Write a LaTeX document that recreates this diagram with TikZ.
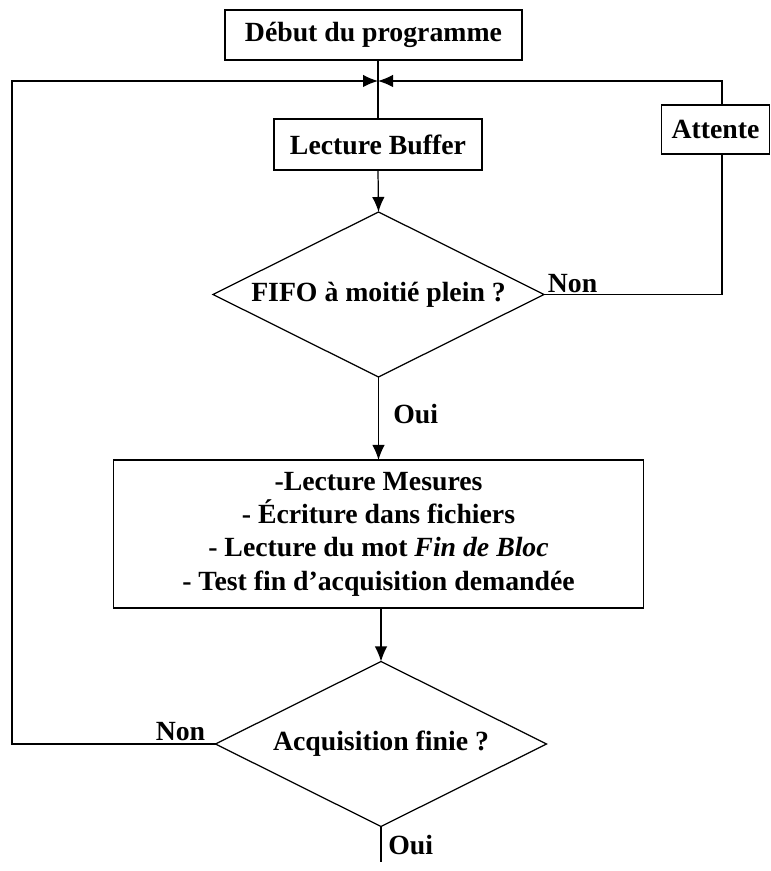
\documentclass[tikz,border=0pt]{standalone}
\usepackage{fontspec}
\setmainfont{Liberation Serif}
\usetikzlibrary{shapes.geometric,arrows.meta}

\begin{document}
\begin{tikzpicture}[font=\fontsize{15.8}{19}\selectfont\bfseries,
        >={Latex[length=0.30cm,width=0.25cm]},x=1cm,y=1cm]
    \tikzset{
        block/.style={
            draw,line width=0.7pt,
            inner sep=2pt,outer sep=0pt,align=center
        },
        test/.style={
            draw,diamond,aspect=2,line width=0.7pt,inner sep=0pt,outer sep=0pt,
            minimum width=6.62cm,minimum height=3.30cm
        },
        answer/.style={inner sep=0pt},
        link/.style={line width=0.7pt},
        flow/.style={->,line width=0.7pt}
    }
    \useasboundingbox (0,0) rectangle (15.40,17.42);

    \node[block,minimum width=5.94cm,minimum height=1.00cm]
        (start) at (7.47,16.72) {Début du programme};
    \coordinate (join) at (7.56,15.80);
    \coordinate (lturn) at (0.24,15.80);
    \coordinate (rturn) at (14.44,15.80);
    \node[block,minimum width=4.16cm,minimum height=1.02cm]
        (buffer) at (7.56,14.53) {Lecture Buffer};
    \node[block,minimum width=2.16cm,minimum height=0.98cm]
        (wait) at (14.31,14.83) {Attente};
    \node[test] (fifo) at (7.57,11.53) {FIFO à moitié plein ?};
    \node[block,minimum width=10.60cm,minimum height=2.96cm]
        (measures) at (7.57,6.74)
        {-Lecture Mesures\\- Écriture dans fichiers\\
         - Lecture du mot \textit{Fin de Bloc}\\
         - Test fin d’acquisition demandée};
    \node[test] (done) at (7.62,2.54) {Acquisition finie ?};
    \coordinate (stop) at (7.62,0.18);

    \node[answer,anchor=base west] (fifo-non)
        at ([xshift=0.07cm,yshift=0.04cm]fifo.east) {Non};
    \node[answer,anchor=west] (fifo-oui) at (7.86,9.14) {Oui};
    \node[answer,anchor=base east] (done-non)
        at ([xshift=-0.20cm,yshift=0.06cm]done.west) {Non};
    \node[answer,anchor=west] (done-oui) at (7.76,0.52) {Oui};

    \draw[link] (start.south -| join) -- (buffer.north);
    \draw[flow] (buffer.south) -- (fifo.north);
    \draw[flow] (fifo.south) -- (measures.north -| fifo.south);
    \draw[flow] (measures.south -| done.north) -- (done.north);
    \draw[link] (done.south) -- (stop);

    \draw[link] (fifo.east) -| (wait.south -| rturn);
    \draw[flow] (wait.north -| rturn) -- (rturn) -- (join);
    \draw[flow] (done.west) -| (lturn) -- (join);
\end{tikzpicture}
\end{document}
